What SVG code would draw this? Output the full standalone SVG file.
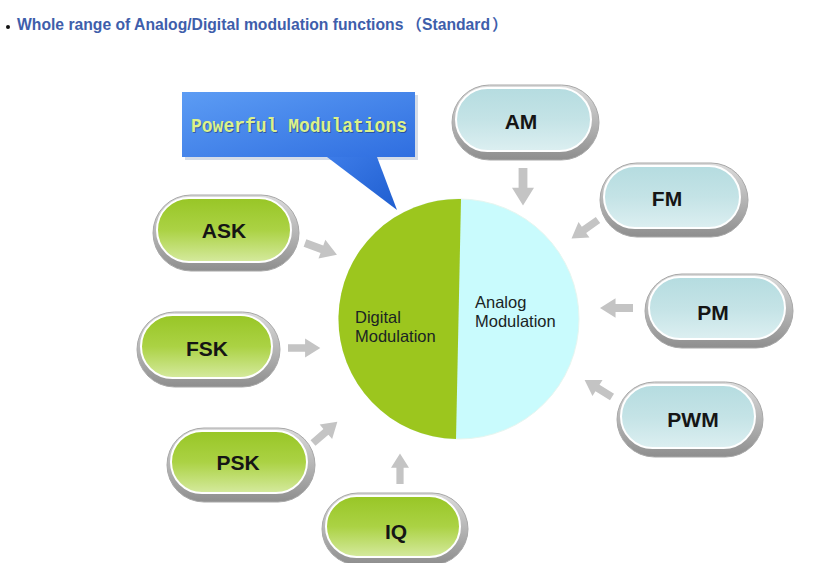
<svg xmlns="http://www.w3.org/2000/svg" width="815" height="563" viewBox="0 0 815 563">
<defs>
<linearGradient id="gGreen" x1="0" y1="0" x2="0" y2="1">
<stop offset="0" stop-color="#98c626"/><stop offset="0.5" stop-color="#abd244"/><stop offset="1" stop-color="#d5ea9e"/>
</linearGradient>
<linearGradient id="gBlue" x1="0" y1="0" x2="0" y2="1">
<stop offset="0" stop-color="#b5dce0"/><stop offset="0.5" stop-color="#c4e3e6"/><stop offset="1" stop-color="#dceff1"/>
</linearGradient>
<linearGradient id="gRim" x1="0" y1="0" x2="0" y2="1">
<stop offset="0" stop-color="#dcdcdc"/><stop offset="1" stop-color="#8e8e8e"/>
</linearGradient>
<linearGradient id="gCallout" x1="0" y1="0" x2="1" y2="1">
<stop offset="0" stop-color="#5c9cf4"/><stop offset="1" stop-color="#2f6ee0"/>
</linearGradient>
<linearGradient id="gTail" x1="0" y1="0" x2="1" y2="1">
<stop offset="0" stop-color="#3d7ce8"/><stop offset="1" stop-color="#1f5ed0"/>
</linearGradient>
<polygon id="arr" points="0,-4 18,-4 18,-10 34,0 18,10 18,4 0,4"/>
<style>
.rim{fill:url(#gRim);stroke:#a8a8a8;stroke-width:1}
.pg{fill:url(#gGreen);stroke:#ffffff;stroke-width:2}
.pb{fill:url(#gBlue);stroke:#ffffff;stroke-width:2}
.lbl{font-family:"Liberation Sans",Arial,sans-serif;font-weight:bold;font-size:21px;fill:#151515;text-anchor:middle;dominant-baseline:central}
.ctext{font-family:"Liberation Sans",Arial,sans-serif;font-size:16.5px;fill:#1a2424}
.arrow{fill:#c4c4c4}
.cjk{font-family:"Noto Sans CJK SC",sans-serif}
</style>
</defs>
<rect width="815" height="563" fill="#ffffff"/>

<g id="title">
<circle cx="8" cy="27" r="2" fill="#111"/>
<text x="17" y="30" font-family="'Liberation Sans','Noto Sans CJK SC',sans-serif" font-weight="bold" font-size="15.7" fill="#3e5eab">Whole range of Analog/Digital modulation functions<tspan class="cjk" dx="3">（</tspan>Standard<tspan class="cjk" dx="2">）</tspan></text>
</g>

<g id="callout">
<rect x="185" y="95" width="233" height="65" fill="#b8c4d8" opacity="0.6"/>
<polygon points="327,157 377,157 397,210" fill="url(#gTail)"/>
<rect x="182" y="92" width="233" height="65" fill="url(#gCallout)"/>
<text x="191" y="132" font-family="'Liberation Mono','DejaVu Sans Mono',monospace" font-weight="bold" font-size="20" textLength="216" lengthAdjust="spacingAndGlyphs" fill="#1a3060" opacity="0.5" transform="translate(1,1)">Powerful Modulations</text>
<text x="191" y="132" font-family="'Liberation Mono','DejaVu Sans Mono',monospace" font-weight="bold" font-size="20" textLength="216" lengthAdjust="spacingAndGlyphs" fill="#dcf28a">Powerful Modulations</text>
</g>

<g id="center">
<circle cx="459" cy="319" r="120" fill="#c9fbfd" stroke="#e6f6f0" stroke-width="1"/>
<path d="M461,199 L456,439 A120,120 0 0 1 461,199 Z" fill="#9cc61e"/>
<text class="ctext" x="355" y="323">Digital</text>
<text class="ctext" x="355" y="342">Modulation</text>
<text class="ctext" x="475" y="308">Analog</text>
<text class="ctext" x="475" y="327">Modulation</text>
</g>

<g id="connectors">
<use href="#arr" class="arrow" transform="translate(305,243) rotate(20)"/>
<use href="#arr" class="arrow" transform="translate(288,348) rotate(0) scale(0.95)"/>
<use href="#arr" class="arrow" transform="translate(313,443) rotate(-41) scale(0.95)"/>
<use href="#arr" class="arrow" transform="translate(400,484) rotate(-90) scale(0.9)"/>
<use href="#arr" class="arrow" transform="translate(523,168) rotate(90) scale(1.1)"/>
<use href="#arr" class="arrow" transform="translate(598,220) rotate(145) scale(0.95)"/>
<use href="#arr" class="arrow" transform="translate(633,308) rotate(180) scale(0.97)"/>
<use href="#arr" class="arrow" transform="translate(612,397) rotate(212) scale(0.95)"/>
</g>

<g id="node-ask">
<rect class="rim" x="153" y="195" width="146" height="76" rx="38"/>
<rect class="pg" x="157" y="198" width="134" height="64" rx="32"/>
<text class="lbl" x="224" y="230">ASK</text>
</g>
<g id="node-fsk">
<rect class="rim" x="137" y="312" width="143" height="75" rx="37.5"/>
<rect class="pg" x="141" y="315" width="131" height="63" rx="31.5"/>
<text class="lbl" x="207" y="348">FSK</text>
</g>
<g id="node-psk">
<rect class="rim" x="167" y="428" width="148" height="74" rx="37"/>
<rect class="pg" x="171" y="431" width="136" height="62" rx="31"/>
<text class="lbl" x="238" y="462">PSK</text>
</g>
<g id="node-iq">
<rect class="rim" x="322" y="493" width="146" height="72" rx="36"/>
<rect class="pg" x="326" y="496" width="134" height="61" rx="30.5"/>
<text class="lbl" x="396" y="531">IQ</text>
</g>
<g id="node-am">
<rect class="rim" x="452" y="85" width="147" height="75" rx="37.5"/>
<rect class="pb" x="456" y="88" width="135" height="63" rx="31.5"/>
<text class="lbl" x="521" y="121">AM</text>
</g>
<g id="node-fm">
<rect class="rim" x="600" y="163" width="148" height="74" rx="37"/>
<rect class="pb" x="604" y="166" width="136" height="62" rx="31"/>
<text class="lbl" x="667" y="198">FM</text>
</g>
<g id="node-pm">
<rect class="rim" x="645" y="274" width="148" height="74" rx="37"/>
<rect class="pb" x="649" y="277" width="136" height="62" rx="31"/>
<text class="lbl" x="713" y="312">PM</text>
</g>
<g id="node-pwm">
<rect class="rim" x="617" y="382" width="146" height="75" rx="37.5"/>
<rect class="pb" x="621" y="385" width="134" height="63" rx="31.5"/>
<text class="lbl" x="693" y="419">PWM</text>
</g>
</svg>
